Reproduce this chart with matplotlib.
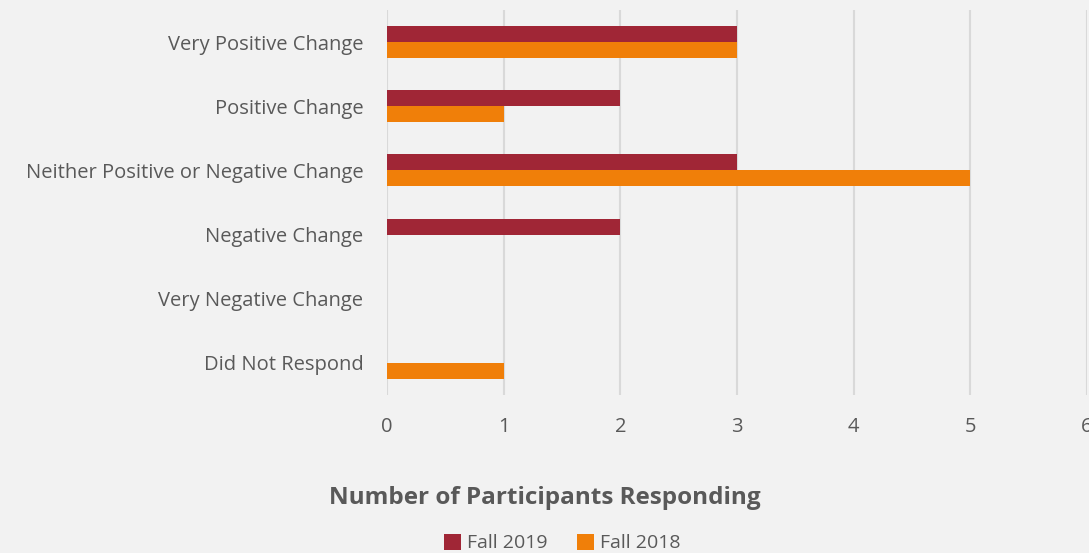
import matplotlib.pyplot as plt
import numpy as np

categories = ["Very Positive Change", "Positive Change",
              "Neither Positive or Negative Change", "Negative Change",
              "Very Negative Change", "Did Not Respond"]
fall_2019 = [3, 2, 3, 2, 0, 0]
fall_2018 = [3, 1, 5, 0, 0, 1]

bg = "#F2F2F2"
text_color = "#595959"
plt.rcParams["font.family"] = ["Open Sans", "DejaVu Sans"]

fig = plt.figure(figsize=(10.89, 5.53), dpi=100, facecolor=bg)
ax = fig.add_axes([0.3554, 0.2857, 0.6426, 0.6962], facecolor=bg)

y = np.arange(len(categories))
h = 0.25
ax.barh(y - h / 2, fall_2019, height=h, color="#A02636", label="Fall 2019", zorder=3)
ax.barh(y + h / 2, fall_2018, height=h, color="#F07F09", label="Fall 2018", zorder=3)

ax.set_ylim(len(categories) - 0.5, -0.5)
ax.set_xlim(0, 6)
ax.set_yticks(y)
ax.set_yticklabels(categories, fontsize=14.5, color=text_color)
ax.set_xticks(range(7))
ax.tick_params(axis="x", labelsize=14.5, labelcolor=text_color, length=0, pad=16)
ax.tick_params(axis="y", length=0, pad=17)
ax.grid(axis="x", color="#D9D9D9", linewidth=1.5, zorder=0)
for s in ax.spines.values():
    s.set_visible(False)

ax.set_xlabel("Number of Participants Responding", fontsize=17.5, fontweight="bold",
              color=text_color)
ax.xaxis.set_label_coords(0.226, -0.237)

leg = ax.legend(loc="center", bbox_to_anchor=(0.516, 0.018),
                bbox_transform=fig.transFigure, ncol=2, frameon=False,
                fontsize=14, handlelength=0.9, handleheight=0.9,
                handletextpad=0.3, columnspacing=1.5, labelcolor=text_color)

fig.savefig("out.png", dpi=100, facecolor=bg)
